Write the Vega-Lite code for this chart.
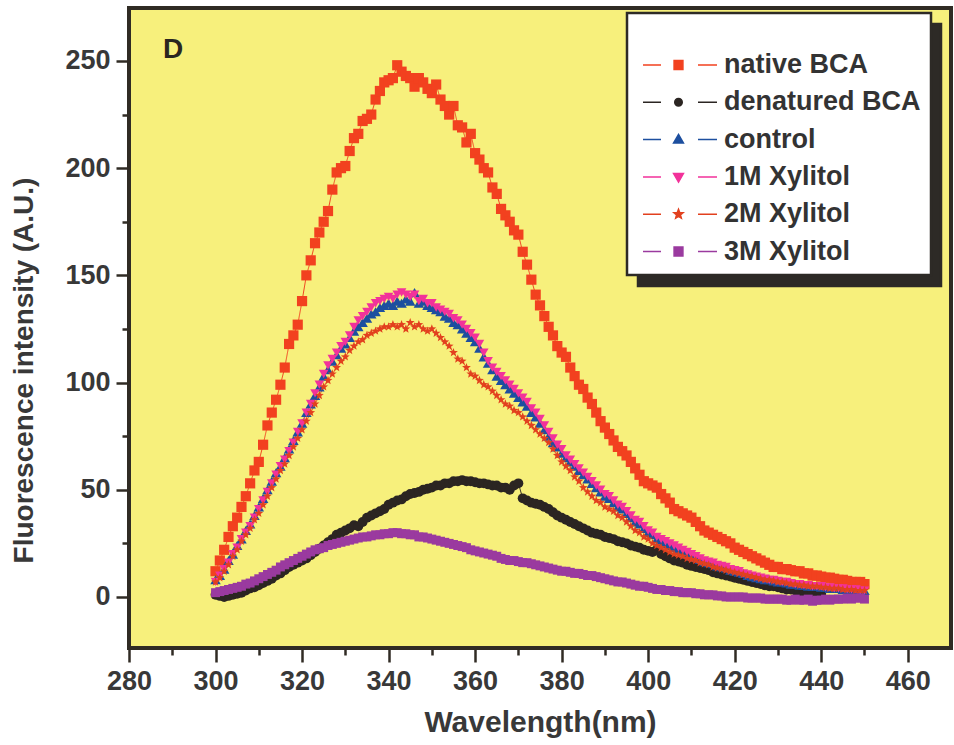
{
  "$schema": "https://vega.github.io/schema/vega-lite/v6.json",
  "width": 822,
  "height": 640,
  "autosize": {"type": "none"},
  "padding": {"left": 129, "top": 8, "right": 3, "bottom": 97},
  "background": "#ffffff",
  "title": {"text": "D", "orient": "top", "anchor": "start", "frame": "group", "offset": 0, "dx": 34, "dy": 78, "baseline": "alphabetic", "font": "Liberation Sans", "fontSize": 28, "fontWeight": "bold", "color": "#2a2620"},
  "datasets": {
    "names": [
      {"k": "n", "series": "native BCA", "series2": "native BCA", "idx": 1},
      {"k": "d", "series": "denatured BCA", "series2": "denatured BCA", "idx": 2},
      {"k": "c", "series": "control", "series2": "control", "idx": 3},
      {"k": "p", "series": "1M Xylitol", "series2": "1M Xylitol", "idx": 4},
      {"k": "s", "series": "2M Xylitol", "series2": "2M Xylitol", "idx": 5},
      {"k": "m", "series": "3M Xylitol", "series2": "3M Xylitol", "idx": 6}
    ],
    "spectra": [
      {"x":300,"n":12,"d":1,"c":8,"p":7,"s":7,"m":2},
      {"x":301,"n":17,"d":0.5,"c":10,"p":10,"s":9,"m":2.5},
      {"x":302,"n":22,"d":0,"c":13,"p":13,"s":12,"m":3},
      {"x":303,"n":28,"d":0.5,"c":17,"p":16,"s":15,"m":3.5},
      {"x":304,"n":33,"d":1,"c":20,"p":20,"s":19,"m":4},
      {"x":305,"n":37,"d":1.5,"c":24,"p":23,"s":22,"m":4.5},
      {"x":306,"n":42,"d":2,"c":27,"p":27,"s":26,"m":5},
      {"x":307,"n":47,"d":3,"c":31,"p":30,"s":29,"m":6},
      {"x":308,"n":53,"d":4,"c":34,"p":33,"s":32,"m":6.5},
      {"x":309,"n":59,"d":4.5,"c":38,"p":37,"s":36,"m":7.5},
      {"x":310,"n":63,"d":5.5,"c":42,"p":41,"s":39,"m":8.5},
      {"x":311,"n":71,"d":6.5,"c":46,"p":45,"s":43,"m":9.5},
      {"x":312,"n":80,"d":7.5,"c":50,"p":49,"s":47,"m":10.5},
      {"x":313,"n":86,"d":8.5,"c":54,"p":53,"s":51,"m":11.5},
      {"x":314,"n":92,"d":10,"c":58,"p":57,"s":55,"m":12.5},
      {"x":315,"n":99,"d":11,"c":61,"p":61,"s":59,"m":14},
      {"x":316,"n":107,"d":12.5,"c":65,"p":64,"s":62,"m":15},
      {"x":317,"n":118,"d":14,"c":69,"p":68,"s":66,"m":16},
      {"x":318,"n":122,"d":15,"c":73,"p":72,"s":70,"m":17},
      {"x":319,"n":127,"d":16,"c":77,"p":77,"s":74,"m":18},
      {"x":320,"n":138,"d":17,"c":81,"p":81,"s":78,"m":19},
      {"x":321,"n":150,"d":18,"c":86,"p":86,"s":82,"m":20},
      {"x":322,"n":157,"d":19.5,"c":90,"p":90,"s":86,"m":21},
      {"x":323,"n":165,"d":21,"c":94,"p":95,"s":90,"m":22},
      {"x":324,"n":170,"d":22.5,"c":98,"p":99,"s":94,"m":22.5},
      {"x":325,"n":175,"d":24,"c":103,"p":104,"s":98,"m":23},
      {"x":326,"n":180,"d":25.5,"c":106,"p":108,"s":101,"m":24},
      {"x":327,"n":190,"d":27,"c":110,"p":111,"s":104,"m":24.5},
      {"x":328,"n":198,"d":29,"c":113,"p":114,"s":107,"m":25},
      {"x":329,"n":200,"d":30,"c":116,"p":117,"s":110,"m":25.5},
      {"x":330,"n":201,"d":31,"c":118,"p":119,"s":112,"m":26},
      {"x":331,"n":208,"d":32,"c":121,"p":122,"s":115,"m":26.5},
      {"x":332,"n":214,"d":33.5,"c":124,"p":126,"s":117,"m":27},
      {"x":333,"n":216,"d":33,"c":126,"p":129,"s":119,"m":27.5},
      {"x":334,"n":222,"d":35,"c":128,"p":131,"s":120,"m":28},
      {"x":335,"n":223,"d":37,"c":130,"p":133,"s":122,"m":28},
      {"x":336,"n":225,"d":38,"c":132,"p":135,"s":123,"m":28.5},
      {"x":337,"n":232,"d":39,"c":133,"p":137,"s":124,"m":29},
      {"x":338,"n":236,"d":40,"c":135,"p":138,"s":125,"m":29},
      {"x":339,"n":240,"d":41,"c":136,"p":139,"s":126,"m":29.5},
      {"x":340,"n":241,"d":43,"c":137,"p":140,"s":126,"m":29.5},
      {"x":341,"n":242,"d":44,"c":136,"p":139,"s":127,"m":30},
      {"x":342,"n":248,"d":45,"c":138,"p":141,"s":126,"m":30},
      {"x":343,"n":245,"d":45.5,"c":137,"p":142,"s":127,"m":29.5},
      {"x":344,"n":243,"d":47,"c":139,"p":141,"s":125,"m":29.5},
      {"x":345,"n":242,"d":48,"c":138,"p":140,"s":128,"m":29},
      {"x":346,"n":238,"d":48.5,"c":142,"p":141,"s":126,"m":29},
      {"x":347,"n":242,"d":49,"c":137,"p":138,"s":127,"m":28},
      {"x":348,"n":240,"d":50,"c":138,"p":139,"s":125,"m":28},
      {"x":349,"n":237,"d":50.5,"c":136,"p":137,"s":124,"m":27.5},
      {"x":350,"n":235,"d":51,"c":135,"p":137,"s":125,"m":27},
      {"x":351,"n":239,"d":52,"c":134,"p":135,"s":123,"m":26.5},
      {"x":352,"n":232,"d":52,"c":133,"p":134,"s":121,"m":26},
      {"x":353,"n":229,"d":53,"c":131,"p":133,"s":119,"m":25.5},
      {"x":354,"n":225,"d":53,"c":130,"p":132,"s":117,"m":25},
      {"x":355,"n":229,"d":54,"c":128,"p":130,"s":114,"m":24.5},
      {"x":356,"n":220,"d":54,"c":127,"p":129,"s":111,"m":24},
      {"x":357,"n":219,"d":54.5,"c":125,"p":127,"s":110,"m":23.5},
      {"x":358,"n":212,"d":54,"c":123,"p":125,"s":107,"m":23},
      {"x":359,"n":216,"d":54,"c":121,"p":123,"s":104,"m":22},
      {"x":360,"n":207,"d":53.5,"c":119,"p":121,"s":103,"m":21.5},
      {"x":361,"n":204,"d":53,"c":116,"p":118,"s":101,"m":21},
      {"x":362,"n":200,"d":53,"c":112,"p":114,"s":99,"m":20.5},
      {"x":363,"n":198,"d":52.5,"c":109,"p":110,"s":98,"m":20},
      {"x":364,"n":191,"d":52,"c":106,"p":107,"s":96,"m":19.5},
      {"x":365,"n":188,"d":52,"c":103,"p":105,"s":94,"m":19},
      {"x":366,"n":181,"d":51,"c":101,"p":103,"s":92,"m":18},
      {"x":367,"n":178,"d":51,"c":99,"p":101,"s":90,"m":17.5},
      {"x":368,"n":175,"d":50,"c":97,"p":99,"s":89,"m":17},
      {"x":369,"n":171,"d":52,"c":95,"p":97,"s":87,"m":17},
      {"x":370,"n":169,"d":53,"c":93,"p":95,"s":86,"m":16.5},
      {"x":371,"n":161,"d":46,"c":91,"p":93,"s":84,"m":16},
      {"x":372,"n":155,"d":45,"c":89,"p":91,"s":82,"m":16},
      {"x":373,"n":148,"d":44,"c":86,"p":88,"s":80,"m":15.5},
      {"x":374,"n":141,"d":43.5,"c":84,"p":86,"s":78,"m":15},
      {"x":375,"n":136,"d":43,"c":81,"p":83,"s":76,"m":14.5},
      {"x":376,"n":131,"d":42,"c":78,"p":80,"s":74,"m":14},
      {"x":377,"n":126,"d":41,"c":75,"p":77,"s":72,"m":13.5},
      {"x":378,"n":122,"d":39.5,"c":72,"p":74,"s":69,"m":13},
      {"x":379,"n":117,"d":38,"c":70,"p":71,"s":66,"m":12.5},
      {"x":380,"n":114,"d":37,"c":67,"p":69,"s":63,"m":12},
      {"x":381,"n":112,"d":36,"c":65,"p":66,"s":61,"m":12},
      {"x":382,"n":107,"d":35,"c":63,"p":64,"s":59,"m":11.5},
      {"x":383,"n":103,"d":34,"c":61,"p":62,"s":56,"m":11},
      {"x":384,"n":99,"d":33,"c":59,"p":60,"s":54,"m":11},
      {"x":385,"n":97,"d":32,"c":57,"p":58,"s":51,"m":10.5},
      {"x":386,"n":93,"d":31,"c":55,"p":56,"s":49,"m":10},
      {"x":387,"n":90,"d":30,"c":53,"p":54,"s":47,"m":10},
      {"x":388,"n":86,"d":29.5,"c":51,"p":52,"s":45,"m":9.5},
      {"x":389,"n":82,"d":29,"c":49,"p":50,"s":44,"m":9},
      {"x":390,"n":79,"d":28,"c":47,"p":48,"s":42,"m":8.5},
      {"x":391,"n":76,"d":27.5,"c":46,"p":47,"s":41,"m":8},
      {"x":392,"n":73,"d":27,"c":44,"p":45,"s":40,"m":7.5},
      {"x":393,"n":70,"d":26,"c":42,"p":43,"s":38,"m":7},
      {"x":394,"n":68,"d":25.5,"c":41,"p":42,"s":37,"m":7},
      {"x":395,"n":66,"d":25,"c":39,"p":40,"s":35,"m":6.5},
      {"x":396,"n":63,"d":24,"c":37,"p":38,"s":33,"m":6},
      {"x":397,"n":60,"d":23.5,"c":35,"p":36,"s":31,"m":5.5},
      {"x":398,"n":57,"d":23,"c":34,"p":35,"s":30,"m":5},
      {"x":399,"n":54,"d":22,"c":32,"p":33,"s":28,"m":5},
      {"x":400,"n":53,"d":21.5,"c":30,"p":31,"s":27,"m":4.5},
      {"x":401,"n":52,"d":21,"c":29,"p":30,"s":25,"m":4},
      {"x":402,"n":51,"d":22,"c":27,"p":28,"s":24,"m":3.5},
      {"x":403,"n":48,"d":20,"c":26,"p":27,"s":23,"m":3.5},
      {"x":404,"n":46,"d":19,"c":25,"p":26,"s":22,"m":3},
      {"x":405,"n":44,"d":18,"c":24,"p":25,"s":21,"m":3},
      {"x":406,"n":41,"d":17,"c":23,"p":24,"s":20,"m":2.5},
      {"x":407,"n":40,"d":16.5,"c":22,"p":23,"s":19.5,"m":2.5},
      {"x":408,"n":39,"d":16,"c":21,"p":22,"s":19,"m":2},
      {"x":409,"n":38,"d":15,"c":20,"p":21,"s":18,"m":2},
      {"x":410,"n":37,"d":14.5,"c":19,"p":20,"s":17.5,"m":2},
      {"x":411,"n":35,"d":14,"c":18.5,"p":19,"s":17,"m":1.5},
      {"x":412,"n":33,"d":13.5,"c":17.5,"p":18,"s":16,"m":1.5},
      {"x":413,"n":31,"d":13,"c":16.5,"p":17,"s":15.5,"m":1},
      {"x":414,"n":30,"d":12.5,"c":16,"p":16.5,"s":15,"m":1},
      {"x":415,"n":29,"d":11.5,"c":15.5,"p":16,"s":14,"m":1},
      {"x":416,"n":28,"d":11,"c":14.5,"p":15,"s":13.5,"m":0.5},
      {"x":417,"n":27,"d":10.5,"c":14,"p":14.5,"s":13,"m":0.5},
      {"x":418,"n":26,"d":10,"c":13.5,"p":14,"s":12.5,"m":0},
      {"x":419,"n":25,"d":9.5,"c":12.5,"p":13,"s":12,"m":0},
      {"x":420,"n":23,"d":9,"c":12,"p":12.5,"s":11.5,"m":0},
      {"x":421,"n":22,"d":8.5,"c":11.5,"p":12,"s":11,"m":0},
      {"x":422,"n":21,"d":8,"c":11,"p":11,"s":10.5,"m":0},
      {"x":423,"n":20,"d":7.5,"c":10,"p":10.5,"s":10,"m":-0.5},
      {"x":424,"n":19,"d":7,"c":9.5,"p":10,"s":9.5,"m":-0.5},
      {"x":425,"n":18,"d":6.5,"c":9,"p":9.5,"s":9,"m":-0.5},
      {"x":426,"n":17,"d":6,"c":8.5,"p":9,"s":8.5,"m":-0.5},
      {"x":427,"n":16,"d":5.5,"c":8,"p":8.5,"s":8,"m":-1},
      {"x":428,"n":15,"d":5,"c":8,"p":8,"s":8,"m":-1},
      {"x":429,"n":14,"d":5,"c":7.5,"p":8,"s":7.5,"m":-1},
      {"x":430,"n":14,"d":4.5,"c":7,"p":7.5,"s":7,"m":-1},
      {"x":431,"n":13,"d":4,"c":7,"p":7,"s":7,"m":-1},
      {"x":432,"n":13,"d":3.5,"c":6.5,"p":7,"s":6.5,"m":-1.5},
      {"x":433,"n":12.5,"d":3.5,"c":6,"p":6.5,"s":6,"m":-1.5},
      {"x":434,"n":12,"d":3,"c":6,"p":6,"s":6,"m":-1},
      {"x":435,"n":12,"d":2.5,"c":5.5,"p":6,"s":5.5,"m":-1.5},
      {"x":436,"n":11,"d":2.5,"c":5.5,"p":5.5,"s":5.5,"m":-1.5},
      {"x":437,"n":11,"d":2,"c":5,"p":5.5,"s":5,"m":-1},
      {"x":438,"n":10,"d":2,"c":5,"p":5,"s":5,"m":-2},
      {"x":439,"n":10,"d":1.5,"c":5,"p":5,"s":5,"m":-1.5},
      {"x":440,"n":9.5,"d":1.5,"c":4.5,"p":5,"s":4.5,"m":-1.5},
      {"x":441,"n":9,"c":4.5,"p":4.5,"s":4.5,"m":-1},
      {"x":442,"n":9,"c":4,"p":4.5,"s":4,"m":-1.5},
      {"x":443,"n":8.5,"c":4,"p":4,"s":4,"m":-1},
      {"x":444,"n":8,"c":4,"p":4,"s":4,"m":-1},
      {"x":445,"n":8,"c":3.5,"p":4,"s":3.5,"m":-1},
      {"x":446,"n":7.5,"c":3.5,"p":3.5,"s":3.5,"m":-0.5},
      {"x":447,"n":7,"c":3.5,"p":3.5,"s":3.5,"m":-1},
      {"x":448,"n":7,"c":3,"p":3.5,"s":3,"m":-0.5},
      {"x":449,"n":7,"c":3,"p":3,"s":3,"m":-0.5},
      {"x":450,"n":6,"c":3,"p":3,"s":3,"m":-1}
    ]
  },
  "data": {"name": "spectra"},
  "transform": [
    {"fold": ["n", "d", "c", "p", "s", "m"], "as": ["k", "y"]},
    {"filter": "isValid(datum.y)"},
    {"lookup": "k", "from": {"data": {"name": "names"}, "key": "k", "fields": ["series", "series2", "idx"]}}
  ],
  "encoding": {
    "x": {
      "field": "x", "type": "quantitative",
      "scale": {"domain": [280, 470], "nice": false, "zero": false},
      "axis": {
        "title": "Wavelength(nm)",
        "titleFontSize": 30,
        "values": [280, 290, 300, 310, 320, 330, 340, 350, 360, 370, 380, 390, 400, 410, 420, 430, 440, 450, 460],
        "labelExpr": "datum.value % 20 === 0 ? datum.label : ''",
        "tickSize": {"condition": {"test": "datum.value % 20 === 0", "value": 14}, "value": 7},
        "labelPadding": 6,
        "labelOverlap": false,
        "labelFlush": false,
        "titlePadding": 13
      }
    },
    "y": {
      "field": "y", "type": "quantitative",
      "scale": {"domain": [-23.8, 274.7], "nice": false, "zero": false},
      "axis": {
        "title": "Fluorescence intensity (A.U.)",
        "titleY": 362,
        "values": [0, 25, 50, 75, 100, 125, 150, 175, 200, 225, 250],
        "labelExpr": "datum.value % 50 === 0 ? datum.label : ''",
        "tickSize": {"condition": {"test": "datum.value % 50 === 0", "value": 13}, "value": 7},
        "labelPadding": 6,
        "labelOverlap": false,
        "labelFlush": false,
        "titlePadding": 26
      }
    }
  },
  "layer": [
    {
      "mark": {"type": "line", "strokeWidth": 1},
      "encoding": {
        "color": {
          "field": "series", "type": "nominal",
          "scale": {
            "domain": ["native BCA", "denatured BCA", "control", "1M Xylitol", "2M Xylitol", "3M Xylitol"],
            "range": ["#f2411f", "#2b2522", "#1d4f9f", "#f2329a", "#e2401e", "#9a3a9f"]
          },
          "legend": {
            "title": " ", "orient": "none", "legendX": 498, "legendY": 5,
            "fillColor": "#ffffff", "strokeColor": "#2d2a26", "zindex": 2,
            "symbolSize": 676, "symbolStrokeWidth": 1.5, "symbolOpacity": 1,
            "encode": {
              "symbols": {"update": {
                "shape": {"signal": "datum.value === 'native BCA' || datum.value === '3M Xylitol' ? 'M-0.615,0H0.769M3.615,0H5.077M1.775,-0.34H2.455V0.34H1.775Z' : datum.value === 'denatured BCA' ? 'M-0.615,0H0.769M3.615,0H5.077M1.825,0A0.29,0.29,0,1,0,2.405,0A0.29,0.29,0,1,0,1.825,0Z' : datum.value === 'control' ? 'M-0.615,0H0.769M3.615,0H5.077M2.115,-0.4L2.495,0.27L1.735,0.27Z' : datum.value === '1M Xylitol' ? 'M-0.615,0H0.769M3.615,0H5.077M2.115,0.4L2.495,-0.27L1.735,-0.27Z' : 'M-0.615,0H0.769M3.615,0H5.077M2.115,-0.37L2.209,-0.129L2.467,-0.114L2.267,0.049L2.332,0.299L2.115,0.16L1.898,0.299L1.963,0.049L1.763,-0.114L2.021,-0.129Z'"},
                "size": {"value": 676},
                "strokeWidth": {"value": 1.5},
                "opacity": {"value": 1}
              }}
            }
          }
        },
        "strokeDash": {
          "field": "series2", "type": "nominal",
          "scale": {
            "domain": ["denatured BCA", "native BCA", "control", "1M Xylitol", "2M Xylitol", "3M Xylitol"],
            "range": [[1, 0], [1, 0], [1, 0], [1, 0], [1, 0], [1, 0]]
          },
          "legend": {
            "title": " ", "orient": "none", "legendX": 509, "legendY": 16,
            "fillColor": "#2d2a26", "strokeColor": "#2d2a26", "zindex": 1,
            "symbolSize": 676, "symbolStrokeWidth": 1.5,
            "symbolType": "M-0.615,-0.4H20.69V0.4H-0.615Z",
            "labelExpr": "'\u00a0\u00a0\u00a0\u00a0\u00a0\u00a0\u00a0\u00a0\u00a0\u00a0\u00a0\u00a0\u00a0\u00a0\u00a0\u00a0\u00a0\u00a0\u00a0\u00a0\u00a0\u00a0\u00a0\u00a0\u00a0\u00a0'",
            "symbolOpacity": 0, "labelOpacity": 0, "titleOpacity": 0
          }
        }
      }
    },
    {
      "mark": {"type": "point", "filled": true, "opacity": 1, "strokeWidth": 0},
      "encoding": {
        "color": {"field": "series", "type": "nominal"},
        "shape": {
          "field": "series", "type": "nominal",
          "scale": {
            "domain": ["3M Xylitol", "2M Xylitol", "1M Xylitol", "control", "denatured BCA", "native BCA"],
            "range": ["square", "M0,-1L0.245,-0.343L0.951,-0.309L0.4,0.131L0.588,0.809L0,0.423L-0.588,0.809L-0.4,0.131L-0.951,-0.309L-0.245,-0.343Z", "triangle-down", "triangle-up", "circle", "square"]
          },
          "legend": null
        },
        "size": {
          "field": "series", "type": "ordinal",
          "scale": {
            "domain": ["control", "native BCA", "denatured BCA", "1M Xylitol", "2M Xylitol", "3M Xylitol"],
            "range": [110, 80, 50, 120, 130, 85]
          },
          "legend": null
        },
        "order": {"field": "idx", "type": "quantitative"}
      }
    }
  ],
  "config": {
    "view": {"fill": "#f7f07c", "stroke": "#302b24", "strokeWidth": 4},
    "axis": {
      "domain": false, "grid": false,
      "labelFont": "Liberation Sans", "labelFontSize": 27, "labelFontWeight": "bold", "labelColor": "#383838",
      "titleFont": "Liberation Sans", "titleFontSize": 28, "titleFontWeight": "bold", "titleColor": "#383838",
      "tickColor": "#302b24", "tickWidth": 2.5
    },
    "legend": {
      "labelFont": "Liberation Sans", "labelFontSize": 27, "labelFontWeight": "bold", "labelColor": "#333333",
      "labelOffset": 59, "labelLimit": 400, "rowPadding": 10.3, "padding": 10,
      "titleFont": "Liberation Sans", "titleFontSize": 24, "titlePadding": 4,
      "symbolSize": 676, "strokeWidth": 2.5
    }
  }
}
